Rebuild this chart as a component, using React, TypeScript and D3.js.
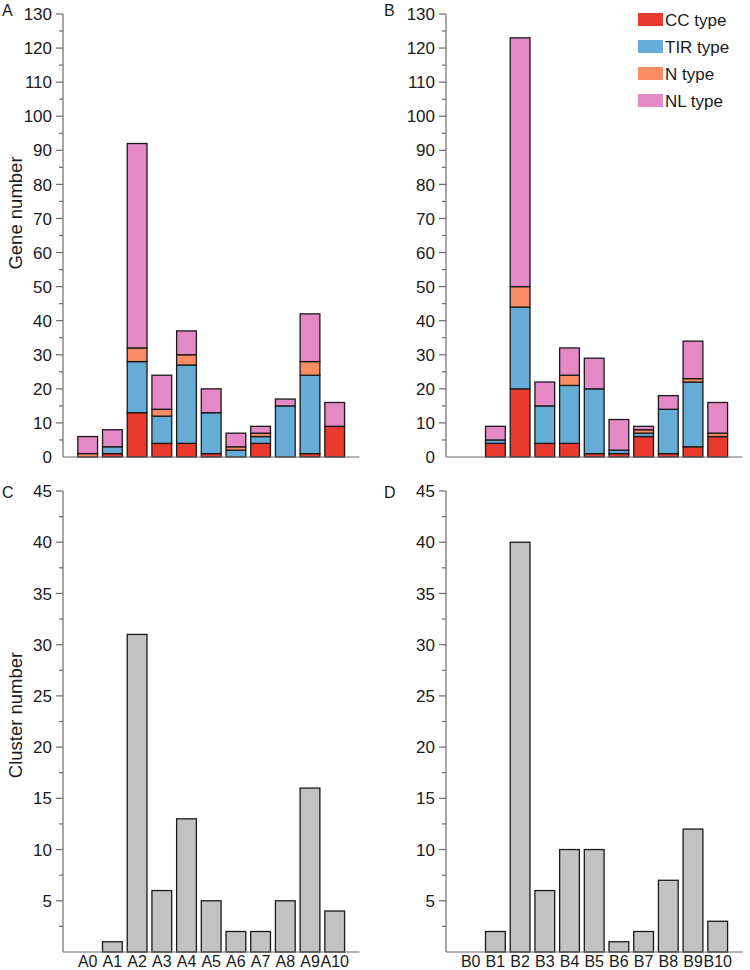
import React, { useEffect, useRef } from 'react';
import * as d3 from 'd3';

const groupsA = ['A0', 'A1', 'A2', 'A3', 'A4', 'A5', 'A6', 'A7', 'A8', 'A9', 'A10'];
const groupsB = ['B0', 'B1', 'B2', 'B3', 'B4', 'B5', 'B6', 'B7', 'B8', 'B9', 'B10'];
const types = ['CC type', 'TIR type', 'N type', 'NL type'];
const typeColors = ['#ea3a2d', '#65acd6', '#f98c62', '#e488c6'];

// gene counts per type, panel A
const ccA = [0, 1, 13, 4, 4, 1, 0, 4, 0, 1, 9];
const tirA = [0, 2, 15, 8, 23, 12, 2, 2, 15, 23, 0];
const nA = [1, 0, 4, 2, 3, 0, 1, 1, 0, 4, 0];
const nlA = [5, 5, 60, 10, 7, 7, 4, 2, 2, 14, 7];

// gene counts per type, panel B
const ccB = [0, 4, 20, 4, 4, 1, 1, 6, 1, 3, 6];
const tirB = [0, 1, 24, 11, 17, 19, 1, 1, 13, 19, 0];
const nB = [0, 0, 6, 0, 3, 0, 0, 1, 0, 1, 1];
const nlB = [0, 4, 73, 7, 8, 9, 9, 1, 4, 11, 9];

// cluster counts
const clusterA = [0, 1, 31, 6, 13, 5, 2, 2, 5, 16, 4];
const clusterB = [0, 2, 40, 6, 10, 10, 1, 2, 7, 12, 3];

const geneTicks = d3.range(0, 131, 10);
const clusterTicks = d3.range(5, 46, 5);

const FONT = 'Liberation Sans, Arial, sans-serif';
const AXIS = '#6b6b6b';
const INK = '#1a1a1a';

const App: React.FC = () => {
  const svgRef = useRef<SVGSVGElement>(null);

  useEffect(() => {
    document.body.style.margin = '0';
    if (!svgRef.current) return;
    const svg = d3.select(svgRef.current);
    svg.selectAll('*').remove();

    const step = 24.7;

    const drawAxes = (
      g: d3.Selection<SVGGElement, unknown, null, undefined>,
      x0: number,
      y: d3.ScaleLinear<number, number>,
      cats: string[],
      ticks: number[],
      minorStep: number,
      showCats: boolean
    ) => {
      const [yb, yt] = y.range();
      // y axis
      g.append('line').attr('x1', x0).attr('x2', x0).attr('y1', yt).attr('y2', yb)
        .attr('stroke', AXIS).attr('stroke-width', 1.2);
      const dmax = y.domain()[1];
      d3.range(0, dmax + 0.001, minorStep).forEach(v => {
        if (v === 0) return;
        const major = ticks.includes(v);
        g.append('line').attr('x1', x0 - (major ? 7 : 4)).attr('x2', x0)
          .attr('y1', y(v)).attr('y2', y(v)).attr('stroke', AXIS).attr('stroke-width', 1.2);
      });
      ticks.forEach(v => {
        g.append('text').attr('x', x0 - 11).attr('y', y(v)).attr('dy', '0.36em')
          .attr('text-anchor', 'end').attr('font-size', 17).attr('fill', INK)
          .attr('font-family', FONT).text(v);
      });
      // x axis
      g.append('line').attr('x1', x0).attr('x2', x0 + step * 12).attr('y1', yb).attr('y2', yb)
        .attr('stroke', AXIS).attr('stroke-width', 1.2);
      if (showCats) {
        const x = d3.scaleBand<string>().domain(cats).range([x0, x0 + step * 12])
          .paddingInner(0.2).paddingOuter(0.6);
        cats.forEach(c => {
          g.append('text').attr('x', x(c)! + x.bandwidth() / 2).attr('y', yb + 15)
            .attr('text-anchor', 'middle').attr('font-size', 16).attr('fill', INK)
            .attr('font-family', FONT).text(c);
        });
      }
    };

    const stacked = (x0: number, cats: string[], series: number[][]) => {
      const g = svg.append('g');
      const x = d3.scaleBand<string>().domain(cats).range([x0, x0 + step * 12])
        .paddingInner(0.2).paddingOuter(0.6);
      const y = d3.scaleLinear().domain([0, 130]).range([457, 14]);
      const rows = cats.map((c, i) => {
        const r: any = { cat: c };
        types.forEach((t, k) => (r[t] = series[k][i]));
        return r;
      });
      const stack = d3.stack<any>().keys(types)(rows);
      stack.forEach((layer, k) => {
        g.selectAll(null).data(layer.filter(d => d[1] - d[0] > 0)).enter().append('rect')
          .attr('x', d => x(d.data.cat)!)
          .attr('width', x.bandwidth())
          .attr('y', d => y(d[1]))
          .attr('height', d => y(d[0]) - y(d[1]))
          .attr('fill', typeColors[k])
          .attr('stroke', INK).attr('stroke-width', 1.3);
      });
      drawAxes(g, x0, y, cats, geneTicks, 5, false);
    };

    const simple = (x0: number, cats: string[], vals: number[]) => {
      const g = svg.append('g');
      const x = d3.scaleBand<string>().domain(cats).range([x0, x0 + step * 12])
        .paddingInner(0.2).paddingOuter(0.6);
      const y = d3.scaleLinear().domain([0, 45]).range([952, 491]);
      g.selectAll(null).data(cats.map((c, i) => ({ c, v: vals[i] })).filter(d => d.v > 0))
        .enter().append('rect')
        .attr('x', d => x(d.c)!)
        .attr('width', x.bandwidth())
        .attr('y', d => y(d.v))
        .attr('height', d => y(0) - y(d.v))
        .attr('fill', '#c2c2c2')
        .attr('stroke', INK).attr('stroke-width', 1.3);
      drawAxes(g, x0, y, cats, clusterTicks, 2.5, true);
    };

    stacked(63, groupsA, [ccA, tirA, nA, nlA]);
    stacked(446, groupsB, [ccB, tirB, nB, nlB]);
    simple(63, groupsA, clusterA);
    simple(446, groupsB, clusterB);

    // panel letters
    [['A', 2, 16], ['B', 384, 16], ['C', 2, 498], ['D', 384, 498]].forEach(([t, px, py]) => {
      svg.append('text').attr('x', px as number).attr('y', py as number)
        .attr('font-size', 16).attr('fill', INK).attr('font-family', FONT).text(t as string);
    });

    // axis titles
    svg.append('text').attr('transform', 'translate(16,213) rotate(-90)')
      .attr('text-anchor', 'middle').attr('dy', '0.35em').attr('font-size', 18.5)
      .attr('fill', INK).attr('font-family', FONT).text('Gene number');
    svg.append('text').attr('transform', 'translate(16,715) rotate(-90)')
      .attr('text-anchor', 'middle').attr('dy', '0.35em').attr('font-size', 18.5)
      .attr('fill', INK).attr('font-family', FONT).text('Cluster number');

    // legend
    const lg = svg.append('g').attr('transform', 'translate(638,13)');
    types.forEach((t, i) => {
      lg.append('rect').attr('x', 0).attr('y', i * 27).attr('width', 25).attr('height', 13)
        .attr('fill', typeColors[i]);
      lg.append('text').attr('x', 27).attr('y', i * 27 + 6.5).attr('dy', '0.36em')
        .attr('font-size', 17).attr('fill', INK).attr('font-family', FONT).text(t);
    });
  }, []);

  return <svg ref={svgRef} width={750} height={970} style={{ display: 'block', background: '#fff' }} />;
};

export default App;
